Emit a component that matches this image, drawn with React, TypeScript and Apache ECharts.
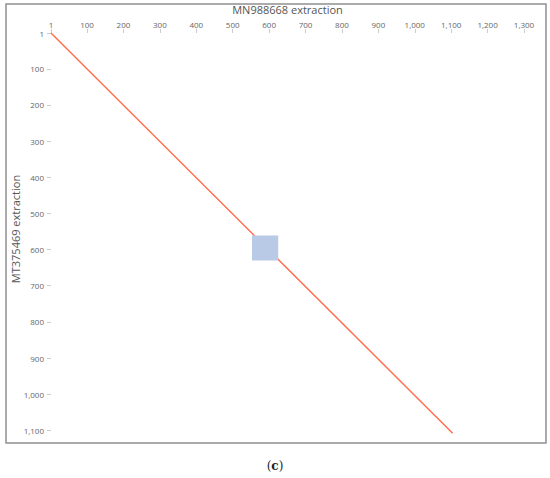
import React, { useEffect, useRef } from "react";
import * as echarts from "echarts";

const xTicks = [1, 100, 200, 300, 400, 500, 600, 700, 800, 900, 1000, 1100, 1200, 1300];
const yTicks = [1, 100, 200, 300, 400, 500, 600, 700, 800, 900, 1000, 1100];
const diagonal: [number, number][] = [
  [1, 1],
  [1104, 1108],
];
// [x0, y0, x1, y1]
const squareBlock = [553, 561, 625, 630];
const xTitle = "MN988668 extraction";
const yTitle = "MT375469 extraction";

const fmt = (v: number) => v.toLocaleString("en-US");

export default function App() {
  const ref = useRef<HTMLDivElement>(null);
  useEffect(() => {
    document.body.style.margin = "0";
    const chart = echarts.init(ref.current!, null, { renderer: "svg" });
    const labelStyle = { color: "#666", fontSize: 8, fontFamily: "Open Sans" };
    chart.setOption({
      animation: false,
      backgroundColor: "#fff",
      grid: { left: 51, top: 33, width: 473, height: 401, containLabel: false, outerBoundsMode: "none" },
      xAxis: {
        type: "value",
        position: "top",
        min: 1,
        max: 1300,
        name: xTitle,
        nameLocation: "middle",
        nameGap: 16,
        nameTextStyle: { color: "#555", fontSize: 11, fontFamily: "Open Sans" },
        axisLine: { show: false },
        axisTick: { show: true, length: 4, customValues: xTicks, lineStyle: { color: "#ccc" } },
        axisLabel: { ...labelStyle, margin: 5, customValues: xTicks, formatter: (v: number) => fmt(v) },
        splitLine: { show: false },
      },
      yAxis: {
        type: "value",
        inverse: true,
        min: 1,
        max: 1110,
        axisLine: { show: false },
        axisTick: { show: true, length: 4, customValues: yTicks, lineStyle: { color: "#ccc" } },
        axisLabel: { ...labelStyle, margin: 7, customValues: yTicks, formatter: (v: number) => fmt(v) },
        splitLine: { show: false },
      },
      series: [
        {
          type: "line",
          data: diagonal,
          symbol: "none",
          lineStyle: { color: "#ff6f4f", width: 1.5 },
          z: 2,
        },
        {
          type: "custom",
          z: 3,
          data: [squareBlock],
          renderItem: (params: any, api: any) => {
            const p0 = api.coord([api.value(0), api.value(1)]);
            const p1 = api.coord([api.value(2), api.value(3)]);
            return {
              type: "rect",
              shape: { x: p0[0], y: p0[1], width: p1[0] - p0[0], height: p1[1] - p0[1] },
              style: { fill: "#b8cae6" },
            };
          },
        },
      ],
      graphic: [
        {
          type: "rect",
          shape: { x: 6, y: 4, width: 540, height: 439 },
          style: { fill: "none", stroke: "#909090", lineWidth: 1.5 },
          z: 10,
        },
        {
          type: "text",
          x: 15,
          y: 229,
          rotation: Math.PI / 2,
          style: {
            text: yTitle,
            fill: "#555",
            font: "11px 'Open Sans'",
            align: "center",
            verticalAlign: "middle",
          },
        },
        {
          type: "text",
          x: 275,
          y: 466,
          style: {
            text: "({b|c})",
            fill: "#222",
            font: "12px 'DejaVu Serif', serif",
            align: "center",
            verticalAlign: "middle",
            rich: { b: { fontWeight: "bold", fontSize: 12, fontFamily: "'DejaVu Serif', serif", fill: "#222" } },
          },
        },
      ],
    });
    return () => chart.dispose();
  }, []);
  return <div ref={ref} style={{ width: 550, height: 478, position: "absolute", left: 0, top: 0 }} />;
}
